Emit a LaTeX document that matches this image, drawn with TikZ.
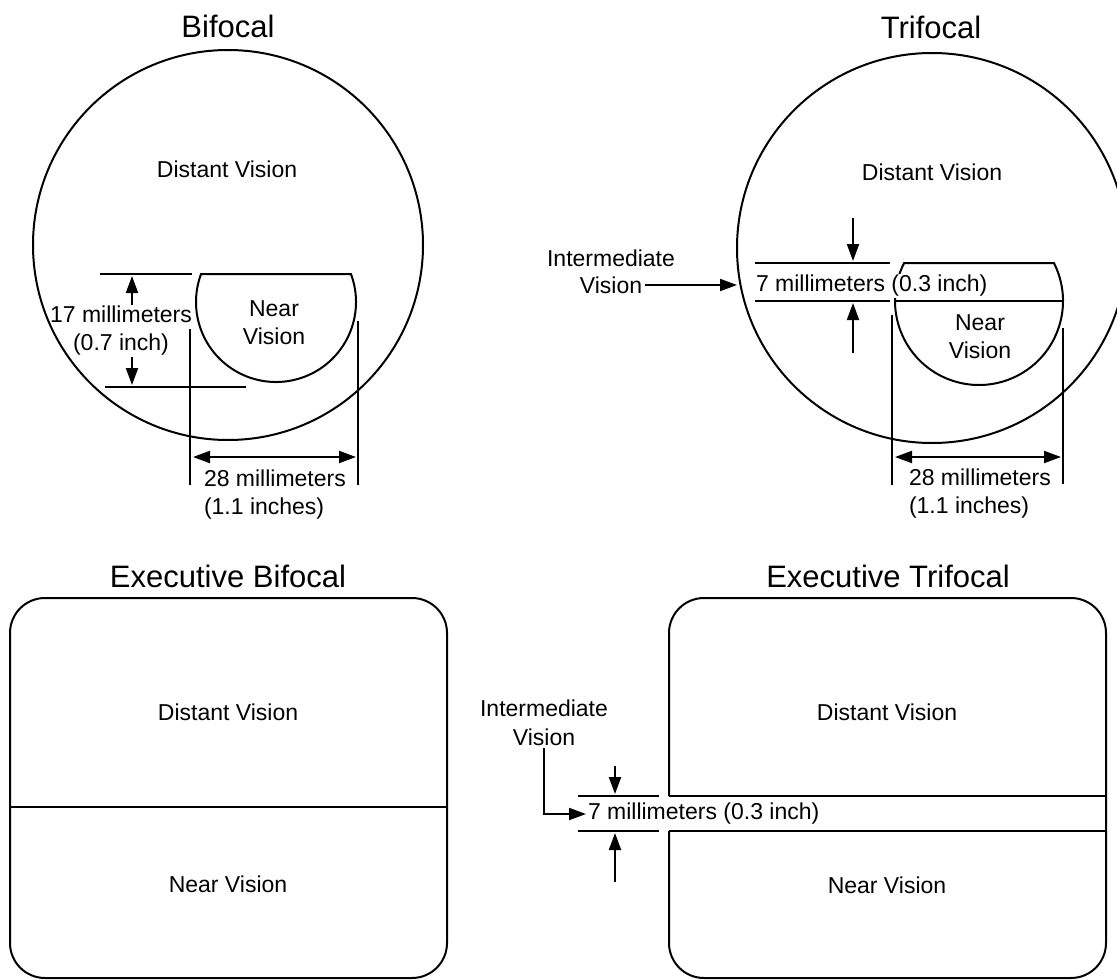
\documentclass[tikz,border=0pt]{standalone}
\usepackage{fontspec}
\setmainfont{Liberation Sans}
\usetikzlibrary{arrows.meta}
\definecolor{inkblk}{HTML}{000000}

\begin{document}
\begin{tikzpicture}[x=1pt, y=1pt, line width=2pt, inkblk,
  lbl/.style={font=\fontsize{23}{28}\selectfont, inner sep=2pt},
  ttl/.style={font=\fontsize{31}{36}\selectfont, inner sep=2pt},
  lens/.style={line width=2pt},
  dimtip/.style={-{Triangle[length=17pt, width=12pt]}},
  dimboth/.style={{Triangle[length=17pt, width=12pt]}-{Triangle[length=17pt, width=12pt]}}]

% Page
\useasboundingbox (0,0) rectangle (1117,-980);
\clip (0,0) rectangle (1117,-980);

% === Bifocal ===
\node[ttl] (bititle) at (228,-26) {Bifocal};
\draw[lens] (228,-245) circle (195);
\node[lbl] (bidist) at (227,-169) {Distant Vision};

% near segment
\draw[lens] (276,-302) ++(20.49:80) arc[start angle=20.49, end angle=-200.49, radius=80] -- cycle;
\node[lbl, align=center] (binear) at (274,-323) {Near\\Vision};

% 17 mm height
\draw (100,-274) -- (192,-274);
\draw (105,-387) -- (246,-387);
\node[lbl, align=center] (bi17) at (121,-331) {17 millimeters\\(0.7 inch)};
\draw[dimtip] (132,-305) -- (132,-276);
\draw[dimtip] (132,-357) -- (132,-385);

% 28 mm width
\draw (190,-329) -- (190,-485);
\draw (358,-321) -- (358,-485);
\draw[dimboth] (193,-457) -- (356,-457);
\node[lbl, align=left, anchor=west] (bi28) at (201,-495) {28 millimeters\\(1.1 inches)};

% === Trifocal ===
\node[ttl] (trititle) at (931,-27) {Trifocal};
\draw[lens] (932,-248) circle (195);
\node[lbl] (tridist) at (932,-172) {Distant Vision};

% intermediate + near segment
\draw[lens] (979,-301) ++(26.9:84) arc[start angle=26.9, end angle=-206.9, radius=84] -- cycle;
\draw[lens] (895,-301) -- (1063,-301);
\node[lbl, align=center] (trinear) at (980,-337) {Near\\Vision};

% 7 mm band
\draw (755,-263) -- (890,-263);
\draw (755,-301) -- (890,-301);
\node[lbl, anchor=west, fill=white, inner sep=1pt] (tri7) at (754,-286) {7 millimeters (0.3 inch)};
\draw[dimtip] (853,-218) -- (853,-261);
\draw[dimtip] (853,-353) -- (853,-303);

% label on the left
\node[lbl] (triint) at (611,-258) {Intermediate};
\node[lbl] (trivis) at (611,-285) {Vision};
\coordinate (tririm) at (737,-285);
\draw[dimtip] (trivis.east) -- (tririm);

% 28 mm width
\draw (892,-315) -- (892,-485);
\draw (1063,-328) -- (1063,-484);
\draw[dimboth] (895,-457) -- (1061,-457);
\node[lbl, align=left, anchor=west] (tri28) at (906,-494) {28 millimeters\\(1.1 inches)};

% === Executive Bifocal ===
\node[ttl] (exbititle) at (228,-576) {Executive Bifocal};
\draw[lens, rounded corners=35pt] (10,-598) rectangle (447,-978);
\draw[lens] (10,-807) -- (447,-807);
\node[lbl] (exbidist) at (228,-712) {Distant Vision};
\node[lbl] (exbinear) at (228,-884) {Near Vision};

% === Executive Trifocal ===
\node[ttl] (extrititle) at (888,-576) {Executive Trifocal};
\draw[lens, rounded corners=35pt] (669,-796) -- (669,-598) -- (1106,-598)
  -- (1106,-978) -- (669,-978) -- (669,-831);
\draw[lens] (669,-796) -- (1106,-796);
\draw[lens] (669,-831) -- (1106,-831);
\node[lbl] (extridist) at (887,-712) {Distant Vision};
\node[lbl] (extrinear) at (887,-885) {Near Vision};

% 7 mm band
\draw (578,-796) -- (659,-796);
\draw (578,-831) -- (659,-831);
\node[lbl, anchor=west, inner sep=1pt] (extri7) at (586,-814) {7 millimeters (0.3 inch)};
\draw[dimtip] (615,-766) -- (615,-794);
\draw[dimtip] (615,-882) -- (615,-833);

% label on the left
\node[lbl] (exint) at (544,-708) {Intermediate};
\node[lbl] (exvis) at (544,-737) {Vision};
\draw[dimtip] (exvis.south) |- (extri7.west);

\end{tikzpicture}
\end{document}
